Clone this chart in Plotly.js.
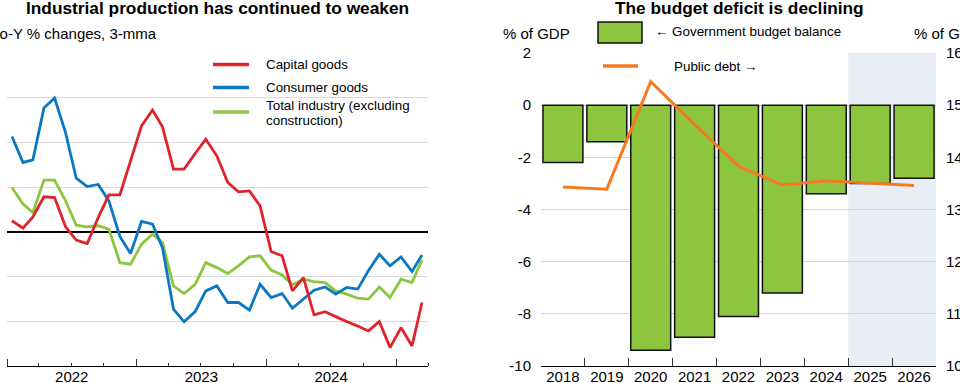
<!DOCTYPE html>
<html>
<head>
<meta charset="utf-8">
<script src="https://cdn.plot.ly/plotly-3.0.1.min.js"></script>
<style>
html, body { margin: 0; padding: 0; width: 960px; height: 383px; overflow: hidden; background: #fff; }
#wrap { position: relative; width: 960px; height: 383px; overflow: hidden; }
#chart { position: absolute; left: -40px; top: 0; width: 1040px; height: 383px; }
</style>
</head>
<body>
<div id="wrap"><div id="chart"></div></div>
<script>
// ---- Left panel: Industrial production, Y-o-Y % changes, 3-mma (Jan 2022 - Mar 2025)
const startYear = 2022;
const nMonths = 39;
const capitalGoods = [0.62, 0.21, 0.84, 1.96, 1.92, 0.28, -0.46, -0.65, 0.80, 2.07, 2.07, 3.97,
  5.93, 6.81, 5.87, 3.51, 3.51, 4.38, 5.18, 4.25, 2.76, 2.24, 2.29, 1.45,
  -1.10, -1.34, -3.30, -2.56, -4.64, -4.46, -4.75, -5.02, -5.26, -5.54, -5.02, -6.47,
  -5.35, -6.38, -3.95];
const consumerGoods = [5.33, 3.88, 4.03, 6.92, 7.48, 5.55, 3.00, 2.53, 2.65, 1.73, -0.26, -1.21,
  0.58, 0.43, -0.88, -4.32, -5.03, -4.46, -3.30, -3.02, -3.95, -3.95, -4.38, -2.93,
  -3.67, -3.45, -4.27, -3.76, -3.26, -3.08, -3.48, -3.11, -3.20, -2.18, -1.25, -1.90,
  -1.40, -2.22, -1.29];
const totalIndustry = [2.48, 1.55, 1.08, 2.89, 2.89, 1.73, 0.37, 0.28, 0.34, 0.15, -1.72, -1.81,
  -0.69, -0.13, -0.60, -3.02, -3.45, -2.93, -1.72, -2.00, -2.33, -1.90, -1.40, -1.34,
  -2.14, -2.41, -2.96, -2.65, -2.78, -2.84, -3.30, -3.48, -3.71, -3.76, -3.08, -3.67,
  -2.65, -2.84, -1.58];
const leftTickVals = [-7.5, -5, -2.5, 0, 2.5, 5, 7.5, 10];
const leftTickText = ["-7.5", "-5", "-2.5", "0", "2.5", "5", "7.5", "10"];

// ---- Right panel: budget
const years = ["2018", "2019", "2020", "2021", "2022", "2023", "2024", "2025", "2026"];
const budgetBalance = [-2.2, -1.4, -9.4, -8.9, -8.1, -7.2, -3.4, -3.0, -2.8];
const publicDebt = [134.3, 133.9, 154.5, 146.3, 138.3, 134.7, 135.5, 135.1, 134.6];
const balTickVals = [-10, -8, -6, -4, -2, 0, 2];
const balTickText = ["-10", "-8", "-6", "-4", "-2", "0", "2"];
const debtTickVals = [100, 110, 120, 130, 140, 150, 160];
const debtTickText = ["100", "110", "120", "130", "140", "150", "160"];

const months = [];
for (let i = 0; i < nMonths; i++) {
  const d = new Date(Date.UTC(startYear, i, 15));
  months.push(d.toISOString().slice(0, 10));
}

const RED = '#e0232b', BLUE = '#0b78c1', GREEN = '#8cc63f', ORANGE = '#f47b20';
const FONT = 'Liberation Sans, Arial, sans-serif';

const traces = [
  { x: months, y: totalIndustry, type: 'scatter', mode: 'lines', name: 'Total industry (excluding construction)',
    line: { color: GREEN, width: 2.8 }, xaxis: 'x', yaxis: 'y', showlegend: false },
  { x: months, y: consumerGoods, type: 'scatter', mode: 'lines', name: 'Consumer goods',
    line: { color: BLUE, width: 2.8 }, xaxis: 'x', yaxis: 'y', showlegend: false },
  { x: months, y: capitalGoods, type: 'scatter', mode: 'lines', name: 'Capital goods',
    line: { color: RED, width: 2.8 }, xaxis: 'x', yaxis: 'y', showlegend: false },
  { x: years, y: budgetBalance, type: 'bar', name: 'Government budget balance',
    marker: { color: GREEN, line: { color: '#111', width: 1.5 } }, xaxis: 'x2', yaxis: 'y2', showlegend: false },
  { x: years, y: publicDebt, type: 'scatter', mode: 'lines', name: 'Public debt',
    line: { color: ORANGE, width: 3 }, xaxis: 'x2', yaxis: 'y3', showlegend: false }
];

// paper helpers: screen px -> paper coords (plot area: screen x 7..936 ; y 53..366)
const px = sx => (sx - 7) / 929;
const py = sy => (366 - sy) / 313;

const ann = (text, sx, sy, opts) => Object.assign({
  text: text, xref: 'paper', yref: 'paper', x: px(sx), y: py(sy),
  xanchor: 'left', yanchor: 'middle', showarrow: false,
  font: { family: FONT, size: 13.4, color: '#000' }
}, opts || {});

const annotations = [
  ann('<b>Industrial production has continued to weaken</b>', 217.5, 8, { xanchor: 'center', font: { family: FONT, size: 17.3, color: '#000' } }),
  ann('<b>The budget deficit is declining</b>', 739, 8, { xanchor: 'center', font: { family: FONT, size: 17.3, color: '#000' } }),
  ann('Y-o-Y % changes, 3-mma', -16, 33, { font: { family: FONT, size: 15, color: '#000' } }),
  ann('% of GDP', 501, 33, { font: { family: FONT, size: 15, color: '#000' } }),
  ann('% of GDP', 912, 33, { font: { family: FONT, size: 15, color: '#000' } }),
  ann('Capital goods', 264, 64.5),
  ann('Consumer goods', 264, 87.5),
  ann('Total industry (excluding', 264, 105),
  ann('construction)', 264, 120),
  ann('\u2190 Government budget balance', 653, 32),
  ann('Public debt \u2192', 672, 66.5)
];

const shapes = [
  { type: 'rect', xref: 'x2', yref: 'y2 domain', x0: 6.5, x1: 8.5, y0: 0, y1: 1,
    fillcolor: '#e9edf5', line: { width: 0 }, layer: 'below' },
  { type: 'line', xref: 'paper', yref: 'paper', x0: px(213), x1: px(249), y0: py(64.5), y1: py(64.5), line: { color: RED, width: 3.5 } },
  { type: 'line', xref: 'paper', yref: 'paper', x0: px(213), x1: px(249), y0: py(87.5), y1: py(87.5), line: { color: BLUE, width: 3.5 } },
  { type: 'line', xref: 'paper', yref: 'paper', x0: px(213), x1: px(249), y0: py(112), y1: py(112), line: { color: GREEN, width: 3.5 } },
  { type: 'rect', xref: 'paper', yref: 'paper', x0: px(598), x1: px(642), y0: py(43), y1: py(22),
    fillcolor: GREEN, line: { color: '#111', width: 1.5 } },
  { type: 'line', xref: 'paper', yref: 'paper', x0: px(603), x1: px(638), y0: py(66), y1: py(66), line: { color: ORANGE, width: 3.5 } }
];

const layout = {
  width: 1040, height: 383,
  margin: { l: 47, r: 64, t: 53, b: 17 },
  paper_bgcolor: '#fff', plot_bgcolor: 'rgba(0,0,0,0)',
  font: { family: FONT, size: 15, color: '#000' },
  showlegend: false,
  xaxis: {
    domain: [0, 421 / 929], anchor: 'y', type: 'date',
    range: ['2022-01-01', '2025-04-01'],
    tick0: '2022-01-01', dtick: 'M12', tickformat: '%Y', ticklabelmode: 'period',
    ticks: 'inside', ticklen: 7, tickcolor: '#333', tickwidth: 1,
    minor: { dtick: 'M3', ticks: 'inside', ticklen: 3.5, tickcolor: '#333', showgrid: false },
    showline: true, linecolor: '#000', linewidth: 1, ticklabelstandoff: -3,
    showgrid: false, zeroline: false, fixedrange: true,
    tickfont: { family: FONT, size: 15, color: '#000' }
  },
  yaxis: {
    domain: [0, 1], anchor: 'x', range: [-7.5, 10],
    tickmode: 'array', tickvals: leftTickVals, ticktext: leftTickText,
    showgrid: true, gridcolor: '#dadada', gridwidth: 1,
    zeroline: true, zerolinecolor: '#000', zerolinewidth: 2,
    showline: false, ticks: '', ticklabelstandoff: 10,
    tickfont: { family: FONT, size: 15, color: '#000' }
  },
  xaxis2: {
    domain: [534 / 929, 1], anchor: 'y2', type: 'category',
    ticks: 'inside', tickson: 'boundaries', ticklen: 8, tickcolor: '#333',
    showline: true, linecolor: '#000', linewidth: 1, showgrid: false, ticklabelstandoff: -3,
    tickfont: { family: FONT, size: 15, color: '#000' }
  },
  yaxis2: {
    domain: [0, 1], anchor: 'x2', range: [-10, 2],
    tickmode: 'array', tickvals: balTickVals, ticktext: balTickText,
    showgrid: true, gridcolor: '#d4d4d4', gridwidth: 1,
    zeroline: true, zerolinecolor: '#c8c8c8', zerolinewidth: 1,
    ticks: '', ticklabelstandoff: 9,
    tickfont: { family: FONT, size: 15, color: '#000' }
  },
  yaxis3: {
    overlaying: 'y2', side: 'right', anchor: 'x2', range: [100, 160],
    tickmode: 'array', tickvals: debtTickVals, ticktext: debtTickText,
    showgrid: false, zeroline: false, ticks: '', ticklabelstandoff: 9,
    tickfont: { family: FONT, size: 15, color: '#000' }
  },
  bargap: 0.09,
  shapes: shapes,
  annotations: annotations
};

Plotly.newPlot('chart', traces, layout, { staticPlot: true, displayModeBar: false });
</script>
</body>
</html>
